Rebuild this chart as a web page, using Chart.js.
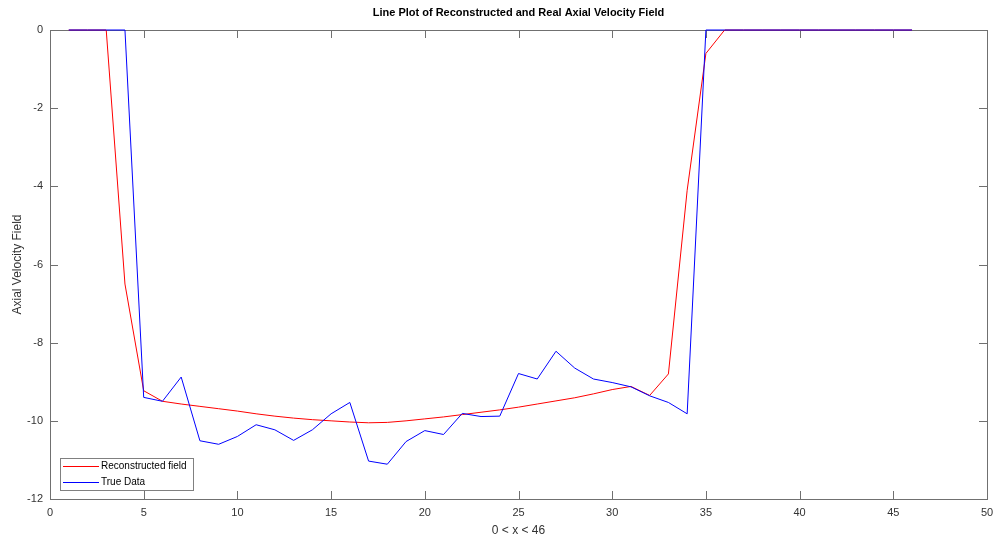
<!DOCTYPE html>
<html>
<head>
<meta charset="utf-8">
<script src="https://cdn.jsdelivr.net/npm/chart.js@4"></script>
<style>
  html, body { margin: 0; padding: 0; background: #fff; }
  #wrap { width: 994px; height: 539px; position: relative; }
</style>
</head>
<body>
<div id="wrap"><canvas id="chart" width="994" height="539"></canvas></div>
<script>
// sample positions 1..46
const xValues = Array.from({ length: 46 }, (_, i) => i + 1);

// reconstructed field (red)
const reconValues = [
  0, 0, 0, -6.5, -9.23, -9.5, -9.57, -9.63, -9.69, -9.75,
  -9.82, -9.88, -9.93, -9.97, -10.0, -10.03, -10.05, -10.04, -10.0, -9.95,
  -9.9, -9.84, -9.78, -9.72, -9.65, -9.57, -9.49, -9.41, -9.31, -9.2,
  -9.12, -9.35, -8.8, -4.1, -0.6, 0, 0, 0, 0, 0,
  0, 0, 0, 0, 0, 0
];

// true data (blue)
const trueValues = [
  0, 0, 0, 0, -9.4, -9.5, -8.88, -10.51, -10.6, -10.4,
  -10.1, -10.23, -10.5, -10.23, -9.82, -9.53, -11.03, -11.11, -10.53, -10.25,
  -10.35, -9.81, -9.89, -9.88, -8.79, -8.93, -8.22, -8.65, -8.93, -9.02,
  -9.13, -9.36, -9.53, -9.82, 0, 0, 0, 0, 0, 0,
  0, 0, 0, 0, 0, 0
];

const seriesNames = ["Reconstructed field", "True Data"];
const seriesColors = ["#ff0000", "#0000ff"];
const titleText = "Line Plot of Reconstructed and Real Axial Velocity Field";
const xTitle = "0 < x < 46";
const yTitle = "Axial Velocity Field";

const toPoints = vals => xValues.map((x, i) => ({ x: x, y: vals[i] }));

const axisColor = "#707070";
const textColor = "#333";
const fontFamily = "'Liberation Sans', Arial, sans-serif";

// box + inward ticks under the lines, title and legend on top (MATLAB look)
const matlabAxes = {
  id: "matlabAxes",
  beforeDatasetsDraw(chart) {
    const { ctx, chartArea: a, scales } = chart;
    const tl = 8;
    ctx.save();
    ctx.strokeStyle = axisColor;
    ctx.lineWidth = 1;
    ctx.strokeRect(Math.round(a.left) + 0.5, Math.round(a.top) + 0.5,
      Math.round(a.right - a.left), Math.round(a.bottom - a.top));
    ctx.beginPath();
    scales.x.ticks.forEach(t => {
      const px = Math.round(scales.x.getPixelForValue(t.value)) + 0.5;
      ctx.moveTo(px, a.bottom); ctx.lineTo(px, a.bottom - tl);
      ctx.moveTo(px, a.top); ctx.lineTo(px, a.top + tl);
    });
    scales.y.ticks.forEach(t => {
      const py = Math.round(scales.y.getPixelForValue(t.value)) + 0.5;
      ctx.moveTo(a.left, py); ctx.lineTo(a.left + tl, py);
      ctx.moveTo(a.right, py); ctx.lineTo(a.right - tl, py);
    });
    ctx.stroke();
    ctx.restore();
  },
  afterDraw(chart) {
    const { ctx, chartArea: a } = chart;
    ctx.save();
    // title
    ctx.fillStyle = "#000";
    ctx.font = "bold 11px " + fontFamily;
    ctx.textAlign = "center";
    ctx.textBaseline = "middle";
    ctx.fillText(titleText, (a.left + a.right) / 2, 13);

    // legend box
    const lx = a.left + 10, ly = a.bottom - 41, lw = 133, lh = 32;
    ctx.fillStyle = "#fff";
    ctx.fillRect(lx, ly, lw, lh);
    ctx.lineWidth = 1;
    ctx.strokeStyle = "#808080";
    ctx.strokeRect(lx + 0.5, ly + 0.5, lw, lh);
    ctx.font = "10px " + fontFamily;
    ctx.textAlign = "left";
    seriesNames.forEach((name, i) => {
      const y = ly + 8.5 + i * 16;
      ctx.strokeStyle = seriesColors[i];
      ctx.beginPath();
      ctx.moveTo(lx + 3, y); ctx.lineTo(lx + 39, y);
      ctx.stroke();
      ctx.fillStyle = "#000";
      ctx.fillText(name, lx + 41, y);
    });
    ctx.restore();
  }
};

new Chart(document.getElementById("chart"), {
  type: "line",
  data: {
    datasets: [
      {
        label: seriesNames[1],
        data: toPoints(trueValues),
        borderColor: seriesColors[1],
        borderWidth: 1,
        pointRadius: 0,
        tension: 0,
        clip: false,
        order: 1
      },
      {
        label: seriesNames[0],
        data: toPoints(reconValues),
        borderColor: seriesColors[0],
        borderWidth: 1,
        pointRadius: 0,
        tension: 0,
        clip: false,
        order: 2
      }
    ]
  },
  options: {
    responsive: false,
    animation: false,
    devicePixelRatio: 1,
    layout: { padding: { top: 30, right: 7, left: 0, bottom: 0 } },
    plugins: {
      legend: { display: false },
      tooltip: { enabled: false },
      title: { display: false }
    },
    scales: {
      x: {
        type: "linear",
        min: 0,
        max: 50,
        ticks: {
          stepSize: 5,
          color: textColor,
          font: { family: fontFamily, size: 11 },
          padding: 7,
          maxRotation: 0
        },
        grid: { display: false, drawTicks: false },
        border: { display: false },
        title: {
          display: true,
          text: xTitle,
          color: textColor,
          font: { family: fontFamily, size: 12 },
          padding: { bottom: 1, top: 0 }
        },
        afterFit: s => { s.height = 40; s.paddingLeft = 0; s.paddingRight = 0; }
      },
      y: {
        min: -12,
        max: 0,
        ticks: {
          stepSize: 2,
          color: textColor,
          font: { family: fontFamily, size: 11 },
          padding: 7
        },
        grid: { display: false, drawTicks: false },
        border: { display: false },
        title: {
          display: true,
          text: yTitle,
          color: textColor,
          font: { family: fontFamily, size: 12 },
          padding: { top: 10, bottom: 0 }
        },
        afterFit: s => { s.width = 50; s.paddingTop = 0; s.paddingBottom = 0; }
      }
    }
  },
  plugins: [matlabAxes]
});
</script>
</body>
</html>
